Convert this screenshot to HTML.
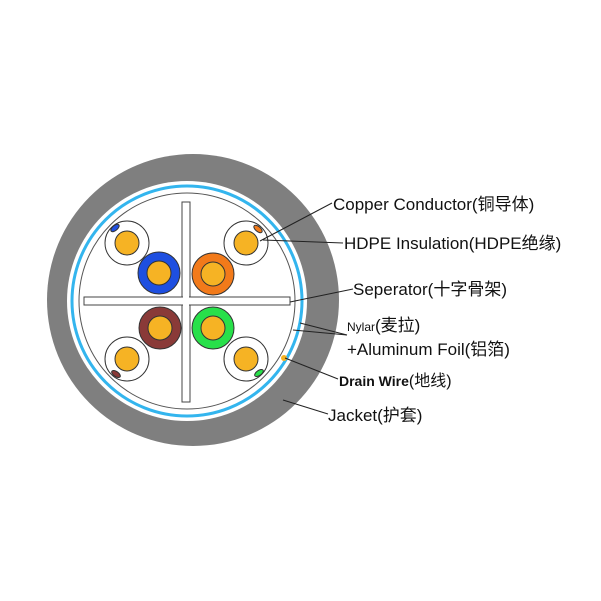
<!DOCTYPE html>
<html><head><style>body{margin:0;background:#fff}svg{display:block}</style></head><body>
<svg width="601" height="601" viewBox="0 0 601 601" xmlns="http://www.w3.org/2000/svg">
<rect width="601" height="601" fill="#fff"/>
<circle cx="193" cy="300" r="146" fill="#7f7f7f"/>
<circle cx="187" cy="301" r="120" fill="#fff"/>
<circle cx="187" cy="301" r="115" fill="none" stroke="#33b5ee" stroke-width="3"/>
<circle cx="187" cy="301" r="108" fill="none" stroke="#555" stroke-width="1"/>
<g stroke="#444" stroke-width="1" fill="#fff">
<rect x="182" y="202" width="8" height="200"/>
<rect x="84" y="297" width="206" height="8"/>
</g>
<rect x="183" y="296.5" width="6" height="9" fill="#fff"/>
<g stroke="#333" stroke-width="1">
<circle cx="127" cy="243" r="22" fill="#fff"/>
<circle cx="246" cy="243" r="22" fill="#fff"/>
<circle cx="127" cy="359" r="22" fill="#fff"/>
<circle cx="246" cy="359" r="22" fill="#fff"/>
<circle cx="159" cy="273" r="21" fill="#1e4fe0"/>
<circle cx="213" cy="274" r="21" fill="#f27a1a"/>
<circle cx="160" cy="328" r="21" fill="#8a3a38"/>
<circle cx="213" cy="328" r="21" fill="#28e04a"/>
<g fill="#f6b324">
<circle cx="127" cy="243" r="12"/><circle cx="246" cy="243" r="12"/>
<circle cx="127" cy="359" r="12"/><circle cx="246" cy="359" r="12"/>
<circle cx="159" cy="273" r="12"/><circle cx="213" cy="274" r="12"/>
<circle cx="160" cy="328" r="12"/><circle cx="213" cy="328" r="12"/>
</g>
<ellipse cx="115" cy="228" rx="5" ry="2.5" transform="rotate(-40 115 228)" fill="#2050e0"/>
<ellipse cx="258" cy="229" rx="5" ry="2.5" transform="rotate(40 258 229)" fill="#f27a1a"/>
<ellipse cx="116" cy="374" rx="5" ry="2.5" transform="rotate(35 116 374)" fill="#8a3a38"/>
<ellipse cx="259" cy="373" rx="5" ry="2.5" transform="rotate(-35 259 373)" fill="#28e04a"/>
</g>
<circle cx="284" cy="358" r="3" fill="#f5b324"/>
<g stroke="#222" stroke-width="1" fill="none">
<line x1="260" y1="241" x2="332" y2="203"/>
<line x1="263" y1="240" x2="343" y2="243"/>
<line x1="290" y1="302" x2="353" y2="289"/>
<line x1="300" y1="323" x2="347" y2="335"/>
<line x1="293" y1="330" x2="347" y2="335"/>
<line x1="285" y1="358" x2="338" y2="379"/>
<line x1="283" y1="400" x2="328" y2="414"/>
</g>
<g font-family="Liberation Sans, Noto Sans CJK SC, sans-serif" fill="#111">
<text x="333" y="210" font-size="17">Copper Conductor(铜导体)</text>
<text x="344" y="249" font-size="17">HDPE Insulation(HDPE绝缘)</text>
<text x="353" y="295" font-size="17">Seperator(十字骨架)</text>
<text x="347" y="331" font-size="12">Nylar<tspan font-size="17">(麦拉)</tspan></text>
<text x="347" y="355" font-size="17">+Aluminum Foil(铝箔)</text>
<text x="339" y="386" font-size="14" font-weight="bold">Drain Wire<tspan font-weight="normal" font-size="16">(地线)</tspan></text>
<text x="328" y="421" font-size="17">Jacket(护套)</text>
</g>
</svg>
</body></html>
